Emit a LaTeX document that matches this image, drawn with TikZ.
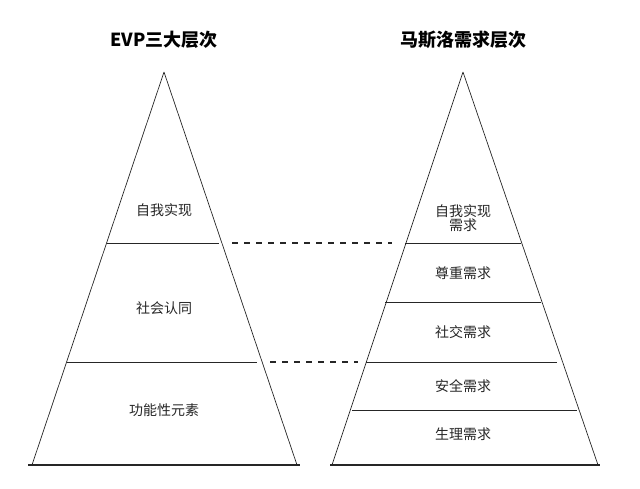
\documentclass[tikz,border=0pt]{standalone}
\usepackage{fontspec}
\setmainfont{Noto Sans CJK SC}
\begin{document}
\begin{tikzpicture}[x=1pt,y=-1pt,
  edge/.style={draw=black!85,line width=0.7pt},
  lbl/.style={font=\fontsize{14}{17}\selectfont,text=black!85,align=center},
  ttl/.style={font=\fontsize{18}{21}\selectfont\bfseries}]
\useasboundingbox (0,0) rectangle (640,488);
% left pyramid
\coordinate (LA) at (164,72);
\coordinate (LL) at (32,465);
\coordinate (LR) at (297,465);
\draw[edge] (LA)--(LL) (LA)--(LR);
\draw[edge,line width=1.1pt] (28,465)--(300,465);
\coordinate (L1a) at (107,243); \coordinate (L1b) at (219,243);
\coordinate (L2a) at (67,362); \coordinate (L2b) at (257,362);
\draw[edge,line width=0.9pt] (L1a)--(L1b) (L2a)--(L2b);
% right pyramid
\coordinate (RA) at (463,72);
\coordinate (RL) at (332,465);
\coordinate (RR) at (598,465);
\draw[edge] (RA)--(RL) (RA)--(RR);
\draw[edge,line width=1.1pt] (330,465)--(600,465);
\coordinate (R1a) at (405,243); \coordinate (R1b) at (521,243);
\coordinate (R2a) at (385,302); \coordinate (R2b) at (541,302);
\coordinate (R3a) at (366,362); \coordinate (R3b) at (557,362);
\coordinate (R4a) at (352,410); \coordinate (R4b) at (577,410);
\draw[edge,line width=0.9pt] (R1a)--(R1b) (R2a)--(R2b) (R3a)--(R3b) (R4a)--(R4b);
% dashes
\draw[edge,line width=1.3pt,dash pattern=on 6pt off 6pt] (232,243)--(392,243);
\draw[edge,line width=1.3pt,dash pattern=on 6pt off 6pt] (270,362)--(358,362);
% titles
\node[ttl] (t1) at (164,40) {EVP三大层次};
\node[ttl] (t2) at (463,40) {马斯洛需求层次};
% labels
\node[lbl] (a1) at (164,210) {自我实现};
\node[lbl] (a2) at (164,308) {社会认同};
\node[lbl] (a3) at (164,410) {功能性元素};
\node[lbl] (b1) at (463,218) {自我实现\\[-3pt]需求};
\node[lbl] (b2) at (463,273) {尊重需求};
\node[lbl] (b3) at (463,332) {社交需求};
\node[lbl] (b4) at (463,386) {安全需求};
\node[lbl] (b5) at (463,434) {生理需求};
\end{tikzpicture}
\end{document}
